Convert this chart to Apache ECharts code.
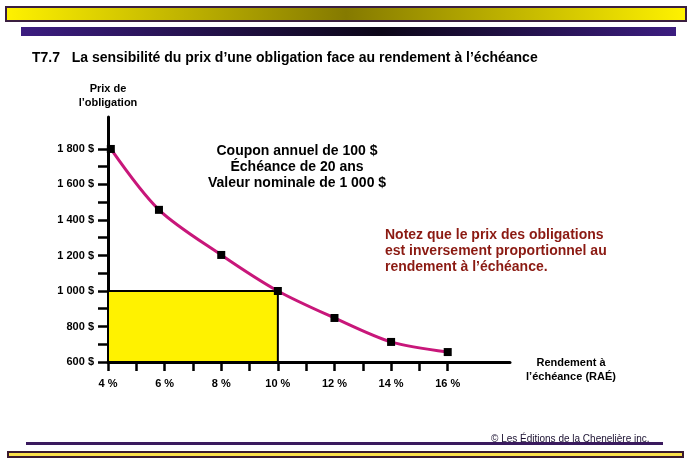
<!DOCTYPE html>
<html>
<head>
<meta charset="utf-8">
<script src="https://cdn.jsdelivr.net/npm/echarts@6/dist/echarts.min.js"></script>
<style>
html,body{margin:0;padding:0;background:#fff;}
#c{width:691px;height:475px;}
</style>
</head>
<body>
<div id="c"></div>
<script>
// Data
var yields = [4.1, 5.8, 8, 10, 12, 14, 16];           // rendement à l'échéance (%)
var prices = [1800, 1457, 1203, 1000, 848, 713, 656];  // prix de l'obligation ($)
var xTickValues = [4, 5, 6, 7, 8, 9, 10, 11, 12, 13, 14, 15, 16];
var xLabelValues = [4, 6, 8, 10, 12, 14, 16];
var yTickValues = [600, 700, 800, 900, 1000, 1100, 1200, 1300, 1400, 1500, 1600, 1700, 1800];
var yLabelValues = [600, 800, 1000, 1200, 1400, 1600, 1800];
var boxX = [4, 10];
var boxY = [600, 1000];
var titleText = "T7.7   La sensibilité du prix d\u2019une obligation face au rendement à l\u2019échéance";
var infoLines = ["Coupon annuel de 100 $", "Échéance de 20 ans", "Valeur nominale de 1 000 $"];
var noteLines = ["Notez que le prix des obligations", "est inversement proportionnel au", "rendement à l\u2019échéance."];

var FONT = '"Liberation Sans", Arial, sans-serif';
var chart = echarts.init(document.getElementById('c'), null, {renderer: 'canvas'});

function fmtY(v) {
  var s = String(Math.round(v));
  if (s.length > 3) s = s.slice(0, s.length - 3) + ' ' + s.slice(s.length - 3);
  return s + ' $';
}

var data = yields.map(function (x, i) { return [x, prices[i]]; });

chart.setOption({
  animation: false,
  backgroundColor: '#ffffff',
  grid: {left: 108, right: 181, top: 117, bottom: 113, containLabel: false},
  xAxis: {
    type: 'value', min: 4, max: 18.2,
    axisLine: {show: true, lineStyle: {color: '#000', width: 3}},
    axisTick: {show: true, length: 9, lineStyle: {color: '#000', width: 2.5}, customValues: xTickValues},
    axisLabel: {show: true, margin: 16, color: '#000', fontFamily: FONT, fontWeight: 'bold', fontSize: 11,
      customValues: xLabelValues, formatter: function (v) { return v + ' %'; }},
    splitLine: {show: false}
  },
  yAxis: {
    type: 'value', min: 600, max: 1980,
    name: 'Prix de\nl\u2019obligation', nameLocation: 'end', nameGap: 7,
    nameTextStyle: {color: '#000', fontFamily: FONT, fontWeight: 'bold', fontSize: 11, align: 'center', lineHeight: 14},
    axisLine: {show: true, lineStyle: {color: '#000', width: 3}},
    axisTick: {show: true, length: 10, lineStyle: {color: '#000', width: 2.5}, customValues: yTickValues},
    axisLabel: {show: true, margin: 14, color: '#000', fontFamily: FONT, fontWeight: 'bold', fontSize: 11,
      customValues: yLabelValues, formatter: fmtY},
    splitLine: {show: false}
  },
  series: [{
    type: 'line',
    data: data,
    smooth: 0.3,
    symbol: 'rect',
    symbolSize: 8,
    itemStyle: {color: '#000'},
    lineStyle: {color: '#c8177a', width: 3},
    z: 5,
    markArea: {
      silent: true,
      itemStyle: {color: '#fff200', borderColor: '#000', borderWidth: 2},
      data: [[{coord: [boxX[0], boxY[0]]}, {coord: [boxX[1], boxY[1]]}]]
    }
  }],
  graphic: [
    // header yellow bar
    {type: 'rect', left: 5, top: 6, shape: {width: 680, height: 14},
      style: {fill: new echarts.graphic.LinearGradient(0, 0, 1, 0, [
        {offset: 0, color: '#fff200'}, {offset: 0.5, color: '#857a00'}, {offset: 1, color: '#fff200'}]),
        stroke: '#3a1f40', lineWidth: 2}, z: 10},
    // header purple bar
    {type: 'rect', left: 21, top: 27, shape: {width: 655, height: 9},
      style: {fill: new echarts.graphic.LinearGradient(0, 0, 1, 0, [
        {offset: 0, color: '#3c1d80'}, {offset: 0.55, color: '#0c0618'}, {offset: 1, color: '#3c1d80'}])}, z: 10},
    // title
    {type: 'text', left: 32, top: 51, style: {text: titleText, fill: '#000', font: 'bold 14px ' + FONT}, z: 10},
    // info text
    {type: 'text', x: 297, y: 143, style: {text: infoLines.join('\n'), fill: '#000', font: 'bold 14px ' + FONT,
      textAlign: 'center', lineHeight: 16}, z: 10},
    // note text
    {type: 'text', x: 385, y: 227, style: {text: noteLines.join('\n'), fill: '#8b1a12', font: 'bold 14px ' + FONT,
      textAlign: 'left', lineHeight: 16}, z: 10},
    // x axis name
    {type: 'text', x: 571, y: 356, style: {text: 'Rendement à\nl\u2019échéance (RAÉ)', fill: '#000', font: 'bold 11px ' + FONT,
      textAlign: 'center', lineHeight: 14}, z: 10},
    // footer purple line
    {type: 'rect', left: 26, top: 442, shape: {width: 637, height: 3}, style: {fill: '#3a1a5e'}, z: 10},
    // footer yellow bar
    {type: 'rect', left: 7, top: 451, shape: {width: 675, height: 5},
      style: {fill: '#fbe04a', stroke: '#3a1a30', lineWidth: 2}, z: 10},
    // copyright
    {type: 'text', x: 491, y: 434, style: {text: '\u00a9 Les Éditions de la Chenelière inc.', fill: '#1a1030', font: '10px ' + FONT}, z: 11}
  ]
});
</script>
</body>
</html>
